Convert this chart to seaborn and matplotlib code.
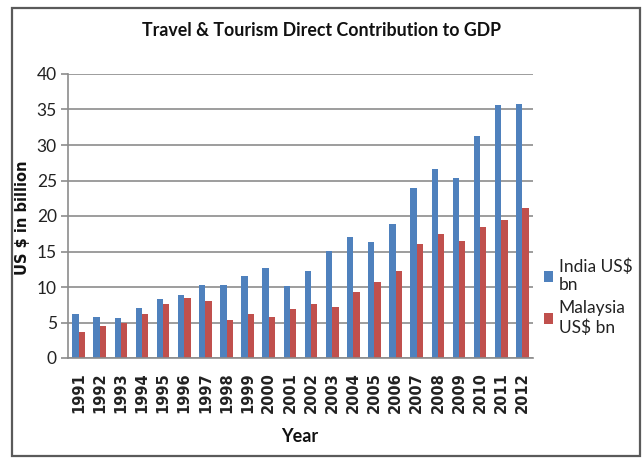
import matplotlib
matplotlib.use("Agg")
import matplotlib.pyplot as plt
import seaborn as sns
import pandas as pd
from matplotlib.patches import Rectangle

years = [str(y) for y in range(1991, 2013)]
india = [6.2, 5.8, 5.6, 7.1, 8.3, 8.9, 10.3, 10.3, 11.5, 12.7, 10.2, 12.3,
         15.1, 17.1, 16.3, 18.9, 23.9, 26.6, 25.3, 31.3, 35.7, 35.8]
malaysia = [3.7, 4.5, 4.9, 6.2, 7.6, 8.4, 8.0, 5.3, 6.2, 5.8, 6.9, 7.6,
            7.2, 9.3, 10.7, 12.2, 16.1, 17.5, 16.5, 18.4, 19.4, 21.1]
series = ["India US$\nbn", "Malaysia\nUS$ bn"]
colors = ["#4F81BD", "#C0504D"]

df = pd.DataFrame({
    "Year": years * 2,
    "Value": india + malaysia,
    "Series": [series[0]] * len(years) + [series[1]] * len(years),
})

sns.set_theme(style="white")
plt.rcParams["font.family"] = ["Lato", "DejaVu Sans"]

fig = plt.figure(figsize=(6.44, 4.58), dpi=100)
ax = fig.add_axes([68 / 644, 100 / 458, (533 - 68) / 644, (358 - 74) / 458])

sns.barplot(data=df, x="Year", y="Value", hue="Series", palette=colors,
            width=0.6, gap=0, saturation=1, ax=ax, edgecolor="none")

ax.set_ylim(0, 40)
ax.set_yticks(range(0, 41, 5))
ax.set_xlim(-0.5, len(years) - 0.5)
ax.yaxis.grid(True, color="#8c8c8c", linewidth=1.2)
ax.set_axisbelow(True)
for s in ["top", "right"]:
    ax.spines[s].set_visible(False)
for s in ["left", "bottom"]:
    ax.spines[s].set_color("#8c8c8c")
    ax.spines[s].set_linewidth(1.2)
ax.tick_params(axis="y", which="both", left=True, length=5, width=1.2,
               color="#8c8c8c", labelsize=12.5, pad=3, labelcolor="#222222")
ax.tick_params(axis="x", bottom=False, pad=4)
for lbl in ax.get_xticklabels():
    lbl.set_rotation(90)
    lbl.set_family("DejaVu Sans")
    lbl.set_fontweight("bold")
    lbl.set_fontsize(10.5)
    lbl.set_color("#222222")

ax.set_ylabel("")
ax.set_xlabel("")
fig.text(23 / 644, 1 - 218 / 458, "US $ in billion", family="DejaVu Sans",
         fontweight="bold", fontsize=10.5, rotation=90, ha="center", va="center",
         color="#111111")
fig.text(300 / 644, 1 - 437 / 458, "Year", ha="center", va="center",
         fontsize=13, fontweight="bold", color="#111111")
fig.text(321 / 644, 1 - 30 / 458, "Travel & Tourism Direct Contribution to GDP",
         ha="center", va="center", fontsize=12.8, fontweight="bold", color="#111111")

leg = ax.legend(loc="center left", bbox_to_anchor=(537 / 644, 1 - 297 / 458),
                bbox_transform=fig.transFigure, frameon=False, fontsize=12.5,
                handlelength=0.55, handleheight=0.55, handletextpad=0.3,
                labelspacing=0.4, borderaxespad=0)
for t in leg.get_texts():
    t.set_color("#222222")

fig.patches.append(Rectangle((12 / 644, 2 / 458), (640 - 12) / 644, (450 - 2) / 458,
                             transform=fig.transFigure, fill=False,
                             edgecolor="#5a5a5a", linewidth=1.6))

fig.savefig("out.png", dpi=100)
